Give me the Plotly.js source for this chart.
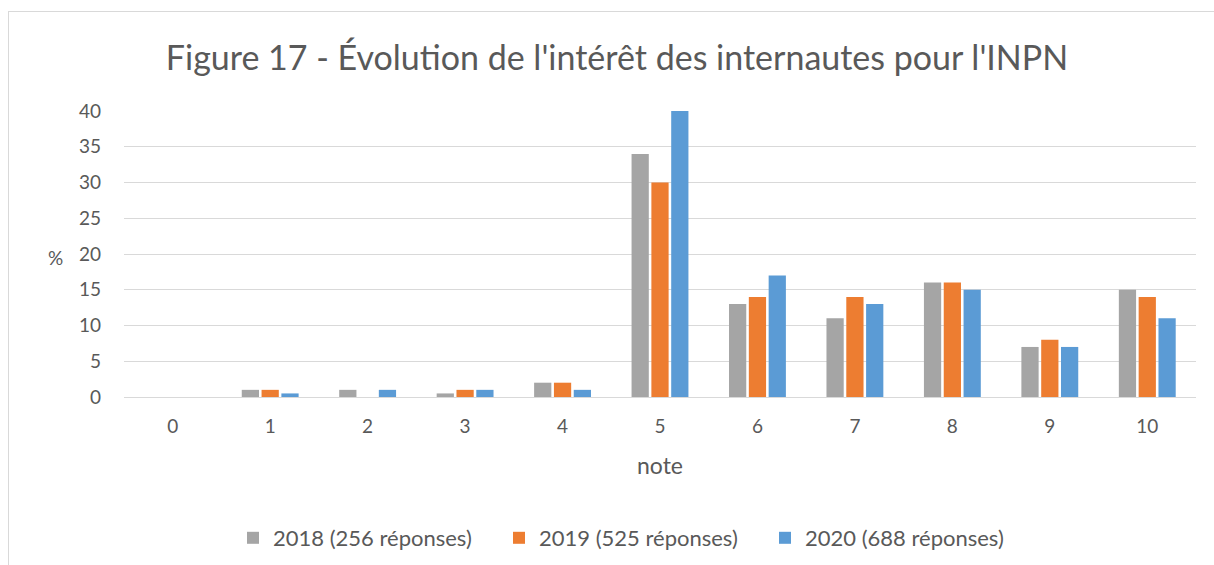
<!DOCTYPE html>
<html>
<head>
<meta charset="utf-8">
<script src="https://cdn.plot.ly/plotly-3.0.1.min.js"></script>
<style>
  html, body { margin: 0; padding: 0; background: #fff; }
  #wrap { position: relative; width: 1214px; height: 565px; overflow: hidden; }
  #frame { position: absolute; left: 8px; top: 11px; width: 1240px; height: 600px; border: 1px solid #d9d9d9; box-sizing: border-box; pointer-events: none; z-index: 2; }
  #chart { position: absolute; left: 0; top: 0; width: 1214px; height: 565px; }
</style>
</head>
<body>
<div id="wrap">
  <div id="chart"></div>
  <div id="frame"></div>
</div>
<script>
const categories = ['0','1','2','3','4','5','6','7','8','9','10'];
const seriesNames = ['2018 (256 réponses)', '2019 (525 réponses)', '2020 (688 réponses)'];
const values2018 = [0, 1, 1, 0.5, 2, 34, 13, 11, 16, 7, 15];
const values2019 = [0, 1, 0, 1, 2, 30, 14, 14, 16, 8, 14];
const values2020 = [0, 0.5, 1, 1, 1, 40, 17, 13, 15, 7, 11];
const yTicks = [0, 5, 10, 15, 20, 25, 30, 35, 40];
const colors = ['#a5a5a5', '#ed7d31', '#5b9bd5'];

const FONT = 'Lato, "Open Sans", sans-serif';
const traces = [values2018, values2019, values2020].map((v, i) => ({
  type: 'bar',
  name: seriesNames[i],
  x: categories,
  y: v,
  marker: { color: colors[i] },
  hoverinfo: 'x+y+name'
}));

const layout = {
  width: 1214,
  height: 565,
  paper_bgcolor: '#ffffff',
  plot_bgcolor: '#ffffff',
  font: { family: FONT, color: '#595959', size: 19 },
  margin: { l: 124, r: 18, t: 111, b: 168 },
  barmode: 'group',
  bargap: 0.39,
  bargroupgap: 0.13,
  title: {
    text: "Figure 17 - Évolution de l'intérêt des internautes pour l'INPN",
    font: { family: FONT, size: 34, color: '#595959' },
    xref: 'container', x: 617/1214, xanchor: 'center',
    yref: 'container', y: 1 - 58/565, yanchor: 'middle'
  },
  xaxis: {
    type: 'category',
    showgrid: false,
    showline: true,
    linecolor: '#d9d9d9',
    linewidth: 1,
    ticks: '',
    ticklabelstandoff: 12,
    tickfont: { size: 19, color: '#595959' },
    title: { text: 'note', font: { size: 23, color: '#595959' }, standoff: 22 },
    zeroline: false
  },
  yaxis: {
    range: [0, 40],
    tickvals: yTicks,
    showgrid: true,
    gridcolor: '#d9d9d9',
    gridwidth: 1,
    zeroline: false,
    showline: false,
    ticks: '',
    ticklabelstandoff: 22,
    tickfont: { size: 19, color: '#595959' }
  },
  annotations: [{
    text: '%',
    xref: 'paper', yref: 'paper',
    x: (55 - 124) / 1072, y: (397 - 257) / 286,
    xanchor: 'center', yanchor: 'middle',
    showarrow: false,
    font: { size: 19, color: '#595959' }
  }],
  showlegend: true,
  legend: {
    orientation: 'h',
    x: (632 - 124) / 1072, xanchor: 'center',
    yref: 'container', y: 1 - 538/565, yanchor: 'middle',
    font: { size: 22, color: '#595959' },
    itemwidth: 30,
    entrywidth: 221,
    entrywidthmode: 'pixels',
    traceorder: 'normal'
  }
};

Plotly.newPlot('chart', traces, layout, { displayModeBar: false, staticPlot: true });
</script>
</body>
</html>
